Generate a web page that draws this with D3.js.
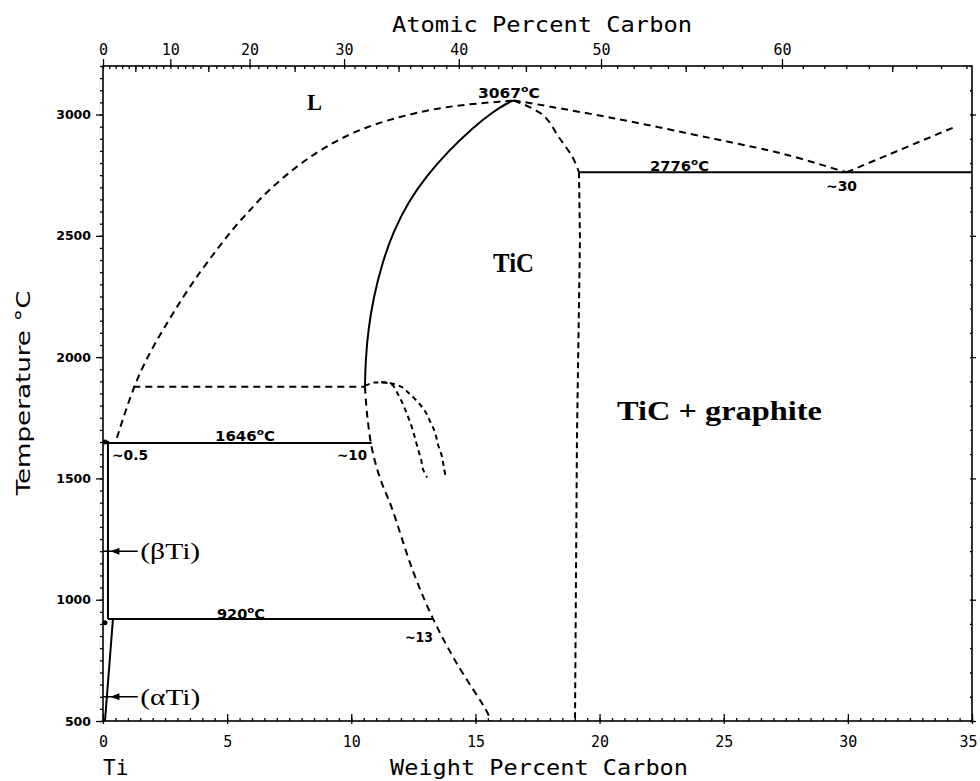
<!DOCTYPE html>
<html><head><meta charset="utf-8">
<script src="https://cdn.jsdelivr.net/npm/d3@7"></script>
<style>body{margin:0;background:#fff}</style>
</head><body><svg id="c" width="980" height="781"></svg>
<script>
// ---------- data ----------
const wtTicks = [0,5,10,15,20,25,30,35];
const tempTicks = [500,1000,1500,2000,2500,3000];
const atTicks = [0,10,20,30,40,50,60];

// [wt% C, T °C]
const liquidusLeft = [[0.56,1667],[1.22,1878],[1.89,2022],[2.57,2139],[3.23,2249],[3.91,2352],[4.58,2442],[5.25,2531],[5.92,2606],[6.59,2682],[7.93,2799],[9.28,2888],[10.62,2950],[11.96,2991],[13.30,3023],[14.65,3042],[15.99,3053],[16.55,3058]];
const liquidusRight = [[16.55,3058],[16.92,3052],[20.5,2986],[24.65,2899],[27.43,2837],[29.8,2766],[29.95,2762]];
const graphiteLiquidus = [[29.95,2762],[34.31,2949]];
const ticSolidus = [[10.55,1878],[10.58,1995],[10.69,2119],[10.89,2242],[11.22,2380],[11.69,2517],[12.30,2641],[13.01,2744],[13.89,2847],[14.86,2943],[15.72,3012],[16.26,3046],[16.55,3058]];
const ticLowerBoundary = [[10.55,1878],[10.64,1761],[10.82,1629],[11.14,1506],[11.62,1382],[12.47,1122],[13.3,920],[14.24,739],[15.49,533],[15.61,500]];
const ticRightCurve = [[16.55,3058],[17.72,2998],[18.41,2899],[18.93,2821],[19.17,2762]];
const ticRightVertical = [[19.17,2762],[19.21,2488],[19.09,1674],[19.01,500]];
const eutecticHigh = [[19.17,2762],[35,2762]];
const monotectic = [[1.22,1878],[10.55,1878]];
const eutectic1646 = [[0.2,1646],[10.82,1646]];
const eutectoid920 = [[0.2,920],[13.3,920]];
const betaSolvus = [[0.2,1655],[0.2,920]];
const alphaSolvus = [[0.4,920],[0.08,500]];
const innerCurve = [[10.55,1882],[10.95,1895],[11.64,1886],[11.88,1847],[12.08,1806],[12.28,1756],[12.44,1711],[12.56,1669],[12.69,1620],[12.81,1579],[12.89,1537],[13.05,1504]];
const outerCurve = [[11.2,1896],[11.48,1895],[12.04,1876],[12.28,1855],[12.65,1818],[12.97,1777],[13.17,1736],[13.37,1690],[13.49,1640],[13.65,1591],[13.73,1545],[13.81,1504]];
const phaseArrows = [["(βTi)",1200],["(αTi)",600]];

// ---------- setup ----------
const svg = d3.select("#c");
const x = d3.scaleLinear().domain([0,35]).range([103,972]);
const y = d3.scaleLinear().domain([500,3200]).range([721,66]);
const atToWt = a => 100*12.011*a/(12.011*a + 47.867*(100-a));
const xa = a => x(atToWt(a));
xa.copy = () => xa; xa.domain = () => [0,68]; xa.range = () => x.range();

const monoFont = "'DejaVu Sans Mono', monospace";

// frame
svg.append("rect").attr("x",x(0)).attr("y",y(3200))
  .attr("width",x(35)-x(0)).attr("height",y(500)-y(3200))
  .attr("fill","none").attr("stroke","#000").attr("stroke-width",1.6);

function styleAxis(g){ g.select(".domain").remove(); g.selectAll("line").attr("stroke","#000").attr("stroke-width",1.3); }

// bottom axis
svg.append("g").attr("transform",`translate(0,${y(500)})`)
  .call(d3.axisBottom(x).tickValues(d3.range(0,35.01,0.5)).tickSize(-3).tickFormat("")).call(styleAxis);
const bl = svg.append("g").attr("transform",`translate(0,${y(500)})`)
  .call(d3.axisBottom(x).tickValues(wtTicks).tickSize(-7).tickPadding(12).tickFormat(d3.format("d"))).call(styleAxis);
bl.selectAll("text").attr("font-family",monoFont).attr("font-size",15).attr("fill","#000").attr("dy","0.9em")
  .attr("dx",d=>d===35?-4:0);
svg.append("g").attr("transform",`translate(0,${y(500)})`)
  .call(d3.axisBottom(x).tickValues(wtTicks).tickSize(3).tickFormat("")).call(styleAxis);

// left axis
svg.append("g").attr("transform",`translate(${x(0)},0)`)
  .call(d3.axisLeft(y).tickValues(d3.range(500,3201,50)).tickSize(3).tickFormat("")).call(styleAxis);
svg.append("g").attr("transform",`translate(${x(0)},0)`)
  .call(d3.axisLeft(y).tickValues(tempTicks).tickSize(7).tickPadding(5).tickFormat(d3.format("d"))).call(styleAxis)
  .selectAll("text").attr("font-family","'DejaVu Sans', sans-serif").attr("font-weight","bold").attr("font-size",12.5).attr("fill","#000");

// right axis
svg.append("g").attr("transform",`translate(${x(35)},0)`)
  .call(d3.axisRight(y).tickValues(tempTicks).tickSize(4).tickFormat("")).call(styleAxis);
svg.append("g").attr("transform",`translate(${x(35)},0)`)
  .call(d3.axisRight(y).tickValues(d3.range(500,3201,100)).tickSize(-2).tickFormat("")).call(styleAxis);

// top axis (atomic percent)
svg.append("g").attr("transform",`translate(0,${y(3200)})`)
  .call(d3.axisTop(xa).tickValues(d3.range(0,69,1)).tickSize(-3).tickFormat("")).call(styleAxis);
svg.append("g").attr("transform",`translate(0,${y(3200)})`)
  .call(d3.axisTop(xa).tickValues(d3.range(5,69,10)).tickSize(-6).tickFormat("")).call(styleAxis);
svg.append("g").attr("transform",`translate(0,${y(3200)})`)
  .call(d3.axisTop(xa).tickValues(atTicks).tickSize(7).tickPadding(4).tickFormat(d3.format("d"))).call(styleAxis)
  .selectAll("text").attr("font-family",monoFont).attr("font-size",15).attr("fill","#000");

// ---------- curves ----------
const straight = d3.line().x(d=>x(d[0])).y(d=>y(d[1]));
const smooth = d3.line().x(d=>x(d[0])).y(d=>y(d[1])).curve(d3.curveCatmullRom.alpha(0.5));
const basis = d3.line().x(d=>x(d[0])).y(d=>y(d[1])).curve(d3.curveBasis);
const curves = [
  {d:liquidusLeft, gen:basis, dash:"7,5"},
  {d:liquidusRight, gen:smooth, dash:"7,5"},
  {d:graphiteLiquidus, gen:straight, dash:"7,5"},
  {d:ticSolidus, gen:basis, dash:null},
  {d:ticLowerBoundary, gen:smooth, dash:"7,5"},
  {d:ticRightCurve, gen:smooth, dash:"7,5"},
  {d:ticRightVertical, gen:straight, dash:"6,4"},
  {d:eutecticHigh, gen:straight, dash:null},
  {d:monotectic, gen:straight, dash:"7,5"},
  {d:eutectic1646, gen:straight, dash:null},
  {d:eutectoid920, gen:straight, dash:null},
  {d:betaSolvus, gen:straight, dash:null},
  {d:alphaSolvus, gen:straight, dash:null},
  {d:innerCurve, gen:smooth, dash:"5,4"},
  {d:outerCurve, gen:smooth, dash:"5,4"}
];
svg.append("g").selectAll("path").data(curves).join("path")
  .attr("d",c=>c.gen(c.d)).attr("fill","none").attr("stroke","#000")
  .attr("stroke-width",2).attr("stroke-dasharray",c=>c.dash);

// small blobs at the left frame
svg.append("g").selectAll("circle").data([[0.08,1650],[0.08,905]]).join("circle")
  .attr("cx",d=>x(d[0])).attr("cy",d=>y(d[1])).attr("r",2.5).attr("fill","#000");

// phase arrows
const ag = svg.append("g").selectAll("g").data(phaseArrows).join("g");
ag.append("line").attr("x1",x(0)).attr("x2",x(1.4)).attr("y1",d=>y(d[1])).attr("y2",d=>y(d[1]))
  .attr("stroke","#000").attr("stroke-width",1.6);
ag.append("path").attr("d",d=>`M${x(0.3)},${y(d[1])} l9,-3.5 l0,7 z`).attr("fill","#000");
ag.append("text").attr("x",x(1.5)).attr("y",d=>y(d[1])+8).text(d=>d[0])
  .attr("font-family","'Liberation Serif', serif").attr("font-size",24).attr("fill","#000")
  .attr("textLength",60).attr("lengthAdjust","spacingAndGlyphs");

// ---------- text labels ----------
function degLabel(num, px, py, len){
  const t = svg.append("text").attr("x",px).attr("y",py)
    .attr("font-family","'DejaVu Sans', sans-serif").attr("font-weight","bold").attr("font-size",13.5).attr("fill","#000")
    .attr("textLength",len).attr("lengthAdjust","spacingAndGlyphs");
  t.append("tspan").text(num);
  t.append("tspan").attr("dy",-6).attr("font-size",9.5).text("o");
  t.append("tspan").attr("dy",6).text("C");
}
degLabel("3067", 478, 98, 62);
degLabel("2776", 650, 171, 59);
degLabel("1646", 215, 441, 60);
degLabel("920", 217, 619, 48);

function small(txt, px, py, len){
  svg.append("text").attr("x",px).attr("y",py).text(txt)
    .attr("font-family","'DejaVu Sans', sans-serif").attr("font-weight","bold").attr("font-size",13.5).attr("fill","#000")
    .attr("textLength",len).attr("lengthAdjust","spacingAndGlyphs");
}
small("~30", 826, 191, 31);
small("~0.5", 112, 460, 36);
small("~10", 337, 460, 30);
small("~13", 405, 642, 28);

const serifLab = (txt, px, py, size, len) => svg.append("text").attr("x",px).attr("y",py).text(txt)
  .attr("font-family","'Liberation Serif', serif").attr("font-weight","bold").attr("font-size",size).attr("fill","#000")
  .attr("textLength",len).attr("lengthAdjust","spacingAndGlyphs");
serifLab("L", 307, 110, 23, 15);
serifLab("TiC", 493, 272, 27, 41);
serifLab("TiC + graphite", 617, 420, 27, 205);

// axis titles
svg.append("text").attr("x",392).attr("y",32).text("Atomic Percent Carbon")
  .attr("font-family",monoFont).attr("font-size",21).attr("fill","#000")
  .attr("textLength",300).attr("lengthAdjust","spacingAndGlyphs");
svg.append("text").attr("x",390).attr("y",775).text("Weight Percent Carbon")
  .attr("font-family",monoFont).attr("font-size",21).attr("fill","#000")
  .attr("textLength",298).attr("lengthAdjust","spacingAndGlyphs");
svg.append("text").attr("x",103).attr("y",775).text("Ti")
  .attr("font-family",monoFont).attr("font-size",21).attr("fill","#000");
svg.append("text").attr("transform","translate(30,393) rotate(-90)").attr("text-anchor","middle")
  .text("Temperature °C").attr("font-family","'DejaVu Sans', sans-serif").attr("font-size",20).attr("fill","#000")
  .attr("textLength",205).attr("lengthAdjust","spacingAndGlyphs");
</script></body></html>
